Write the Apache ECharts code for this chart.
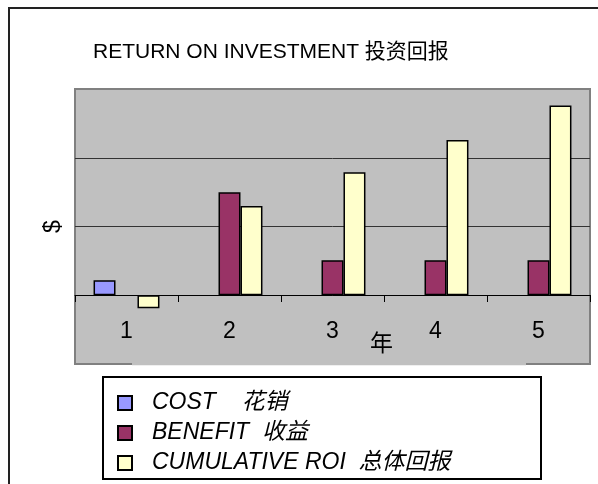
<!DOCTYPE html>
<html>
<head>
<meta charset="utf-8">
<script src="https://cdn.jsdelivr.net/npm/echarts@6/dist/echarts.min.js"></script>
<style>
  html, body { margin: 0; padding: 0; background: #fff; }
  #chart { width: 598px; height: 484px; }
</style>
</head>
<body>
<div id="chart"></div>
<script>
const years = ["1", "2", "3", "4", "5"]
const cost = [0.22, null, null, null, null]
const benefit = [null, 1.5, 0.51, 0.51, 0.51]
const cumulativeRoi = [-0.19, 1.3, 1.79, 2.26, 2.76]

const FONT = "Liberation Sans, Arial, Noto Sans CJK SC, sans-serif"

const chart = echarts.init(document.getElementById("chart"))

const barStyle = (color) => ({
  color: color,
  borderColor: "#000",
  borderWidth: 1.5,
})

const option = {
  animation: false,
  backgroundColor: "#fff",
  textStyle: { fontFamily: FONT },
  title: {
    text: "RETURN ON INVESTMENT 投资回报",
    left: 88,
    top: 37,
    textStyle: {
      fontFamily: FONT,
      fontSize: 21,
      fontWeight: "normal",
      color: "#000",
    },
  },
  legend: {
    orient: "vertical",
    left: 117,
    top: 388,
    padding: 0,
    itemGap: 0,
    itemWidth: 14,
    itemHeight: 14,
    icon: "rect",
    selectedMode: false,
    textStyle: {
      fontFamily: FONT,
      fontSize: 23,
      fontStyle: "italic",
      color: "#000",
      lineHeight: 30,
      padding: [0, 0, 0, 15],
    },
    data: ["COST    花销", "BENEFIT  收益", "CUMULATIVE ROI  总体回报"],
  },
  grid: {
    left: 75,
    right: 8,
    top: 89,
    bottom: 120,
    show: true,
    backgroundColor: "#C0C0C0",
    borderColor: "#808080",
    borderWidth: 2,
  },
  xAxis: {
    type: "category",
    data: years,
    // sit the axis on the zero line (grid is 275px tall, range -1..3)
    offset: -69,
    name: "年",
    nameLocation: "middle",
    nameMoveOverlap: false,
    nameGap: 38,
    nameTextStyle: {
      fontFamily: FONT,
      fontSize: 23,
      color: "#000",
      padding: [0, 0, 0, 98],
    },
    axisLine: { onZero: false, lineStyle: { color: "#000", width: 1 } },
    axisTick: { show: true, length: 7, lineStyle: { color: "#000" } },
    axisLabel: {
      fontFamily: FONT,
      fontSize: 23,
      color: "#000",
      margin: 25,
    },
  },
  yAxis: {
    type: "value",
    min: -1,
    max: 3,
    interval: 1,
    name: "$",
    nameLocation: "middle",
    nameRotate: 90,
    nameGap: 10,
    nameTextStyle: { fontFamily: FONT, fontSize: 23, color: "#000" },
    axisLine: { show: false },
    axisTick: { show: false },
    axisLabel: { show: false },
    splitLine: {
      show: true,
      showMinLine: false,
      showMaxLine: false,
      lineStyle: { color: "#333", width: 1 },
    },
  },
  graphic: [
    {
      type: "polyline",
      shape: { points: [[9, 484], [9, 8], [598, 8]] },
      style: { stroke: "#222", lineWidth: 2, fill: null },
    },
    {
      // the legend hid this part of the plot border
      type: "line",
      shape: { x1: 132, y1: 364, x2: 526, y2: 364 },
      style: { stroke: "#C0C0C0", lineWidth: 2.5 },
    },
    {
      type: "rect",
      shape: { x: 103, y: 377, width: 438, height: 102 },
      style: { fill: "#fff", stroke: "#000", lineWidth: 2 },
    },
  ],
  series: [
    {
      name: "COST    花销",
      type: "bar",
      barGap: "0%",
      barCategoryGap: "36%",
      itemStyle: barStyle("#9999FF"),
      data: cost,
    },
    {
      name: "BENEFIT  收益",
      type: "bar",
      barGap: "0%",
      barCategoryGap: "36%",
      itemStyle: barStyle("#993366"),
      data: benefit,
    },
    {
      name: "CUMULATIVE ROI  总体回报",
      type: "bar",
      barGap: "0%",
      barCategoryGap: "36%",
      itemStyle: barStyle("#FFFFCC"),
      data: cumulativeRoi,
    },
  ],
}
chart.setOption(option)
</script>
</body>
</html>
